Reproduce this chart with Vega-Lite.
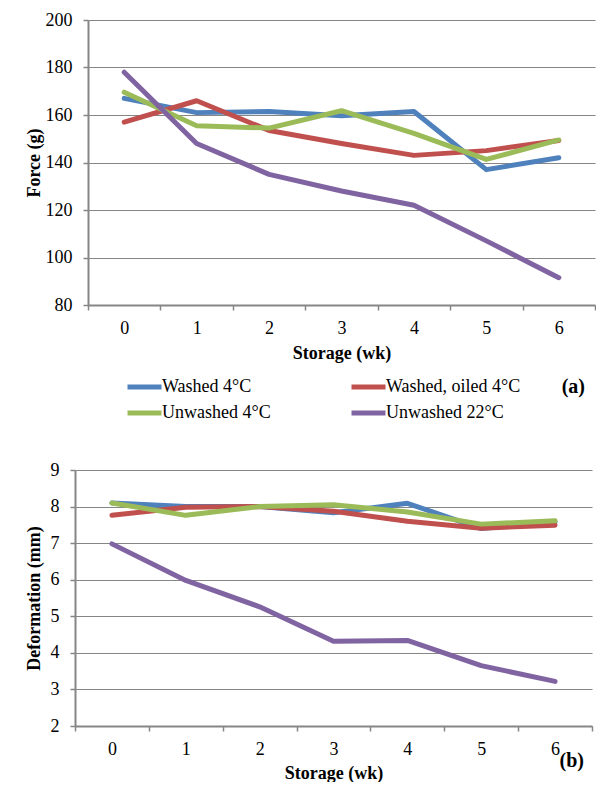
{
  "$schema": "https://vega.github.io/schema/vega-lite/v6.json",
  "padding": {"left": 18, "top": 11, "right": 0, "bottom": 0},
  "background": "white",
  "config": {
    "font": "Liberation Serif",
    "view": {"stroke": null},
    "axis": {
      "labelFont": "Liberation Serif", "labelFontSize": 18, "labelColor": "black",
      "titleFont": "Liberation Serif", "titleFontSize": 18, "titleFontWeight": "bold", "titleColor": "black",
      "domainColor": "#868686", "tickColor": "#868686", "gridColor": "#868686",
      "domainWidth": 2, "tickWidth": 1.5, "gridWidth": 1.2, "tickSize": 5
    },
    "axisX": {"grid": false, "labelAngle": 0, "labelPadding": 9, "titlePadding": 7},
    "axisY": {"grid": true, "labelPadding": 11}
  },
  "data": {"values": [
    {"wk": "0", "series": "Washed 4°C", "force": 167, "deform": 8.1},
    {"wk": "1", "series": "Washed 4°C", "force": 161, "deform": 8.0},
    {"wk": "2", "series": "Washed 4°C", "force": 161.5, "deform": 8.0},
    {"wk": "3", "series": "Washed 4°C", "force": 159.7, "deform": 7.83},
    {"wk": "4", "series": "Washed 4°C", "force": 161.5, "deform": 8.09},
    {"wk": "5", "series": "Washed 4°C", "force": 137, "deform": 7.4},
    {"wk": "6", "series": "Washed 4°C", "force": 142, "deform": 7.58},
    {"wk": "0", "series": "Washed, oiled 4°C", "force": 157, "deform": 7.76},
    {"wk": "1", "series": "Washed, oiled 4°C", "force": 166, "deform": 7.98},
    {"wk": "2", "series": "Washed, oiled 4°C", "force": 153.5, "deform": 8.0},
    {"wk": "3", "series": "Washed, oiled 4°C", "force": 148, "deform": 7.87},
    {"wk": "4", "series": "Washed, oiled 4°C", "force": 143, "deform": 7.6},
    {"wk": "5", "series": "Washed, oiled 4°C", "force": 145, "deform": 7.41},
    {"wk": "6", "series": "Washed, oiled 4°C", "force": 149.3, "deform": 7.49},
    {"wk": "0", "series": "Unwashed 4°C", "force": 169.6, "deform": 8.1},
    {"wk": "1", "series": "Unwashed 4°C", "force": 155.5, "deform": 7.76},
    {"wk": "2", "series": "Unwashed 4°C", "force": 154.5, "deform": 8.0},
    {"wk": "3", "series": "Unwashed 4°C", "force": 161.8, "deform": 8.05},
    {"wk": "4", "series": "Unwashed 4°C", "force": 152.3, "deform": 7.85},
    {"wk": "5", "series": "Unwashed 4°C", "force": 141.3, "deform": 7.52},
    {"wk": "6", "series": "Unwashed 4°C", "force": 149.5, "deform": 7.61},
    {"wk": "0", "series": "Unwashed 22°C", "force": 178, "deform": 6.98},
    {"wk": "1", "series": "Unwashed 22°C", "force": 148, "deform": 5.98},
    {"wk": "2", "series": "Unwashed 22°C", "force": 135, "deform": 5.26},
    {"wk": "3", "series": "Unwashed 22°C", "force": 128, "deform": 4.32},
    {"wk": "4", "series": "Unwashed 22°C", "force": 122, "deform": 4.34},
    {"wk": "5", "series": "Unwashed 22°C", "force": 107, "deform": 3.65},
    {"wk": "6", "series": "Unwashed 22°C", "force": 91.5, "deform": 3.22}
  ]},
  "spacing": 38,
  "resolve": {"scale": {"x": "independent", "y": "independent", "color": "independent"}, "legend": {"color": "independent"}},
  "vconcat": [
    {
      "spacing": 0,
      "resolve": {"scale": {"x": "independent", "y": "independent", "color": "independent"}, "legend": {"color": "independent"}},
      "hconcat": [
        {"width": 1, "height": 1, "mark": {"type": "point", "opacity": 0}, "encoding": {}},
        {
          "width": 507, "height": 285,
          "title": {"text": "(a)", "orient": "bottom", "anchor": "end", "frame": "group", "offset": -46, "dx": -10, "fontSize": 20, "fontWeight": "bold", "font": "Liberation Serif", "color": "black"},
          "mark": {"type": "line", "strokeWidth": 5, "strokeCap": "round", "strokeJoin": "round"},
          "encoding": {
            "x": {"field": "wk", "type": "ordinal", "scale": {"type": "band", "paddingInner": 0, "paddingOuter": 0}, "bandPosition": 0.5,
                  "axis": {"title": "Storage (wk)", "tickBand": "extent"}},
            "y": {"field": "force", "type": "quantitative", "scale": {"domain": [80, 200], "nice": false},
                  "axis": {"title": "Force (g)", "values": [80, 100, 120, 140, 160, 180, 200], "titlePadding": 2}},
            "color": {"field": "series", "type": "nominal",
                      "scale": {"domain": ["Washed 4°C", "Washed, oiled 4°C", "Unwashed 4°C", "Unwashed 22°C"], "range": ["#4F81BD", "#C0504D", "#9BBB59", "#8064A2"]},
                      "legend": {"orient": "none", "legendX": 37, "legendY": 357, "direction": "horizontal", "columns": 2, "title": null,
                                 "symbolType": "stroke", "symbolSize": 1156, "symbolStrokeWidth": 5, "labelFontSize": 18, "labelFont": "Liberation Serif",
                                 "labelColor": "black", "labelOffset": -2, "columnPadding": 78, "rowPadding": 6, "clipHeight": 20, "labelLimit": 300}}
          }
        }
      ]
    },
    {
      "spacing": 0,
      "resolve": {"scale": {"x": "independent", "y": "independent", "color": "independent"}, "legend": {"color": "independent"}},
      "hconcat": [
        {"width": 1, "height": 1, "mark": {"type": "point", "opacity": 0}, "encoding": {}},
        {
          "width": 517, "height": 256,
          "title": {"text": "(b)", "orient": "bottom", "anchor": "end", "frame": "group", "offset": -31, "dx": -8, "fontSize": 20, "fontWeight": "bold", "font": "Liberation Serif", "color": "black"},
          "mark": {"type": "line", "strokeWidth": 5, "strokeCap": "round", "strokeJoin": "round"},
          "encoding": {
            "x": {"field": "wk", "type": "ordinal", "scale": {"type": "band", "paddingInner": 0, "paddingOuter": 0}, "bandPosition": 0.5,
                  "axis": {"title": "Storage (wk)", "tickBand": "extent", "titlePadding": 6}},
            "y": {"field": "deform", "type": "quantitative", "scale": {"domain": [2, 9], "nice": false},
                  "axis": {"title": "Deformation (mm)", "values": [2, 3, 4, 5, 6, 7, 8, 9], "titlePadding": 7}},
            "color": {"field": "series", "type": "nominal",
                      "scale": {"domain": ["Washed 4°C", "Washed, oiled 4°C", "Unwashed 4°C", "Unwashed 22°C"], "range": ["#4F81BD", "#C0504D", "#9BBB59", "#8064A2"]},
                      "legend": null}
          }
        }
      ]
    }
  ]
}
